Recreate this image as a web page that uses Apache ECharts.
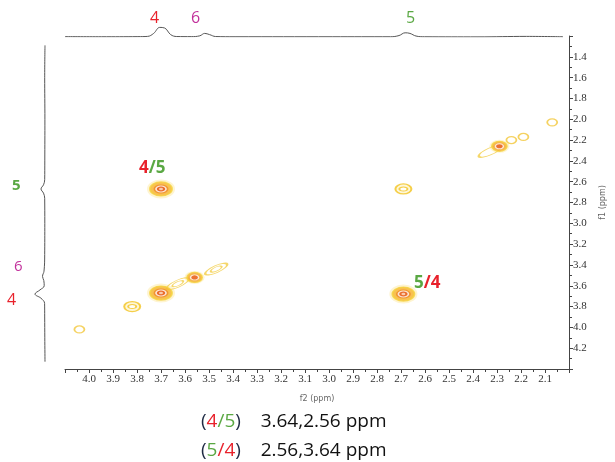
<!DOCTYPE html>
<html>
<head>
<meta charset="utf-8">
<script src="https://cdn.jsdelivr.net/npm/echarts@6/dist/echarts.min.js"></script>
<style>html,body{margin:0;padding:0;background:#fff;}#c{width:615px;height:462px;}</style>
</head>
<body>
<div id="c"></div>
<script>
// ---- data ----
var f2Ticks = [4.0,3.9,3.8,3.7,3.6,3.5,3.4,3.3,3.2,3.1,3.0,2.9,2.8,2.7,2.6,2.5,2.4,2.3,2.2,2.1];
var f1Ticks = [1.4,1.6,1.8,2.0,2.2,2.4,2.6,2.8,3.0,3.2,3.4,3.6,3.8,4.0,4.2];

// cross / diagonal peaks (f2 ppm, f1 ppm, contour level count)
var peakF2    = [3.70, 3.70, 2.69, 3.56, 2.29, 2.69, 3.82, 4.04, 2.07, 2.24, 2.19];
var peakF1    = [2.67, 3.67, 3.68, 3.52, 2.26, 2.67, 3.80, 4.02, 2.03, 2.20, 2.17];
var peakLevel = [4,    4,    4,    3,    3,    2,    2,    1,    1,    1,    1];

// elongated low-level diagonal contours
var ridgeF2 = [3.63, 3.47, 2.33, 3.60];
var ridgeF1 = [3.58, 3.44, 2.31, 3.55];

// 1D projection traces
var topF2  = [4.10, 3.95, 3.80, 3.76, 3.735, 3.71, 3.69, 3.665, 3.64, 3.58, 3.545, 3.525, 3.505, 3.48, 3.40, 3.00, 2.76, 2.725, 2.70, 2.68, 2.655, 2.62, 2.40, 2.20, 2.05];
var topInt = [0.3,  0.2,  0.3,  0.5,  3,     8,    7.5,  2,     0.4,  0.3,  1,     3,     2,     0.4,  0.2,  0.2,  0.2,  1.2,   3.5,  3,    0.8,   0.2,  0.1,  0.5,  0.2];
var leftF1  = [1.29, 1.60, 2.00, 2.40, 2.58, 2.63, 2.67, 2.71, 2.76, 3.00, 3.30, 3.46, 3.51, 3.55, 3.60, 3.64, 3.68, 3.72, 3.77, 3.90, 4.10, 4.33];
var leftInt = [0,    0.3,  0.1,  0.2,  0.3,  1.5,  4,    1.5,  0.3,  0.2,  0.3,  1,    2.5,  1.2,  0.8,  5,    10,   4,    0.4,  0.3,  0.2,  0];

// labels
var assignLabels = ['4','6','5'];
var assignF2 = [3.70, 3.52, 2.69];
var correlations = [['4','5','3.64,2.56 ppm'], ['5','4','2.56,3.64 ppm']];
var colorOf = {'4':'#e8212b','5':'#5aa843','6':'#c2309b'};

// ---- build ----
function pts(filter){
  var out=[];
  for(var i=0;i<peakF2.length;i++){ if(filter(peakLevel[i])) out.push([peakF2[i],peakF1[i]]); }
  return out;
}
function layer(filter,size,style,z){
  return {type:'scatter',xAxisIndex:0,yAxisIndex:0,data:pts(filter),symbol:'circle',symbolSize:size,
    itemStyle:style,silent:true,z:z,animation:false};
}
var ridgeData = ridgeF2.map(function(v,i){return [v,ridgeF1[i]];});

var series = [
  // ridges
  {type:'scatter',data:ridgeData.slice(0,3),symbol:'circle',symbolSize:[24,7],symbolRotate:24,
   itemStyle:{color:'rgba(255,255,255,0)',borderColor:'#f3cd45',borderWidth:1.4},z:2,animation:false},
  {type:'scatter',data:ridgeData.slice(0,2),symbol:'circle',symbolSize:[12,4],symbolRotate:24,
   itemStyle:{color:'rgba(255,255,255,0)',borderColor:'#f3cd45',borderWidth:1.2},z:2,animation:false},
  // level >=4 glow
  layer(function(l){return l>=4;},[28,19],{color:'rgba(252,214,90,0.35)'},3),
  layer(function(l){return l>=4;},[22,14],{color:'#f6b431',borderColor:'#f5d23c',borderWidth:1.5},4),
  layer(function(l){return l>=4;},[15,9],{color:'#ef8a2c'},5),
  layer(function(l){return l>=4;},[10,6],{color:'#ea612b',borderColor:'#ffffff',borderWidth:1.3},6),
  layer(function(l){return l>=4;},[4,2.5],{color:'#fbe3d0'},7),
  // level 3
  layer(function(l){return l===3;},[20,13],{color:'rgba(252,214,90,0.35)'},3),
  layer(function(l){return l===3;},[15,10],{color:'#f4a632',borderColor:'#f5d23c',borderWidth:1.5},4),
  layer(function(l){return l===3;},[8,5],{color:'#ea612b',borderColor:'#ffffff',borderWidth:1.1},6),
  // level 2
  layer(function(l){return l===2;},[16,10],{color:'rgba(252,225,120,0.35)',borderColor:'#f2c31f',borderWidth:1.6},4),
  layer(function(l){return l===2;},[8,4],{color:'#ffffff',borderColor:'#f2c31f',borderWidth:1.4},5),
  // level 1
  layer(function(l){return l===1;},[10,7],{color:'rgba(255,255,255,0)',borderColor:'#f2c73a',borderWidth:1.5},4),
  // top projection
  {type:'line',xAxisIndex:1,yAxisIndex:1,data:topF2.map(function(v,i){return [v,topInt[i]];}),
   smooth:0.4,symbol:'none',lineStyle:{color:'#555',width:1},silent:true,animation:false},
  // left projection
  {type:'line',xAxisIndex:2,yAxisIndex:2,data:leftF1.map(function(v,i){return [leftInt[i],v];}),
   smooth:0.4,symbol:'none',lineStyle:{color:'#555',width:1},silent:true,animation:false}
];

var graphic = [];
// top labels
var topPx = {'4':150,'6':191,'5':406};
assignLabels.forEach(function(l){
  graphic.push({type:'text',left:topPx[l],top:10,style:{text:l,fill:colorOf[l],font:'16px "Open Sans"'}});
});
// left labels
graphic.push({type:'text',left:12,top:178,style:{text:'5',fill:colorOf['5'],font:'bold 15px "Open Sans"'}});
graphic.push({type:'text',left:14,top:259,style:{text:'6',fill:colorOf['6'],font:'15px "Open Sans"'}});
graphic.push({type:'text',left:7,top:292,style:{text:'4',fill:colorOf['4'],font:'16px "Open Sans"'}});

function pairText(a,b){
  return {type:'text',style:{text:'{a|'+a+'}{b|/'+b+'}',rich:{
    a:{fill:colorOf[a],font:'bold 17px "Open Sans"'},
    b:{fill:colorOf[b],font:'bold 17px "Open Sans"'}}}};
}
var t1 = pairText('4','5'); t1.left=139; t1.top=160; graphic.push(t1);
var t2 = pairText('5','4'); t2.left=414; t2.top=275; graphic.push(t2);

// bottom correlation lines
correlations.forEach(function(c,i){
  graphic.push({type:'text',left:201,top:412+i*29,style:{
    text:'{p|(}{a|'+c[0]+'}{b|/'+c[1]+'}{p|)}{t|    '+c[2]+'}',
    rich:{p:{fill:'#1f2a44',font:'19px "Open Sans"'},
          a:{fill:colorOf[c[0]],font:'19px "Open Sans"'},
          b:{fill:colorOf[c[1]],font:'19px "Open Sans"'},
          t:{fill:'#111',font:'19px "Open Sans"'}}}});
});

var labelStyle = {color:'#333',fontFamily:'Liberation Serif',fontSize:11};
var option = {
  backgroundColor:'#fff',
  animation:false,
  grid:[
    {left:65,right:40,top:36,bottom:93},
    {left:65,right:52,top:25,height:12},
    {left:33,width:12,top:36,bottom:93}
  ],
  xAxis:[
    {type:'value',gridIndex:0,min:2.0,max:4.1,interval:0.1,inverse:true,position:'bottom',
     name:'f2 (ppm)',nameLocation:'middle',nameGap:26,
     nameTextStyle:{color:'#666',fontSize:8,fontFamily:'DejaVu Sans'},
     axisLine:{lineStyle:{color:'#444',width:1}},
     axisTick:{show:true,length:4,lineStyle:{color:'#444'}},
     minorTick:{show:true,splitNumber:2,length:3,lineStyle:{color:'#444'}},
     splitLine:{show:false},
     axisLabel:Object.assign({margin:5,formatter:function(v){return (v>4.05||v<2.05)?'':v.toFixed(1);}},labelStyle)},
    {type:'value',gridIndex:1,min:2.05,max:4.1,inverse:true,show:false},
    {type:'value',gridIndex:2,min:0,max:12,inverse:true,show:false}
  ],
  yAxis:[
    {type:'value',gridIndex:0,min:1.2,max:4.4,interval:0.2,inverse:true,position:'right',
     name:'f1 (ppm)',nameLocation:'middle',nameGap:30,nameRotate:90,
     nameTextStyle:{color:'#666',fontSize:8,fontFamily:'DejaVu Sans'},
     axisLine:{show:true,lineStyle:{color:'#444',width:1}},
     axisTick:{show:true,length:4,lineStyle:{color:'#444'}},
     minorTick:{show:true,splitNumber:2,length:3,lineStyle:{color:'#444'}},
     splitLine:{show:false},
     axisLabel:Object.assign({margin:4,formatter:function(v){return (v<1.3||v>4.3)?'':v.toFixed(1);}},labelStyle)},
    {type:'value',gridIndex:1,min:0,max:10,show:false},
    {type:'value',gridIndex:2,min:1.2,max:4.4,inverse:true,show:false}
  ],
  series:series,
  graphic:graphic
};
var chart = echarts.init(document.getElementById('c'),null,{renderer:'canvas'});
chart.setOption(option);
</script>
</body>
</html>
